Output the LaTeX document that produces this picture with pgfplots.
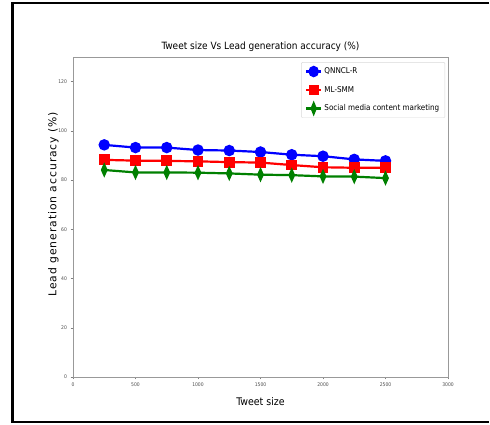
\documentclass[border=0pt]{standalone}
\usepackage{pgfplots}
\pgfplotsset{compat=1.18}
\usepackage{fontspec}
\setmainfont{DejaVu Sans Condensed}
\newfontfamily\wide[LetterSpace=8.5]{DejaVu Sans}
\definecolor{mblue}{RGB}{0,0,255}
\definecolor{mred}{RGB}{255,0,0}
\definecolor{mgreen}{RGB}{0,128,0}
\begin{document}
\begin{tikzpicture}[x=1pt,y=1pt]
\useasboundingbox (0,0) rectangle (490,425);
\draw[line width=2.5pt] (489,422) -- (12.5,422) -- (12.5,3) -- (489,3);
\begin{axis}[
  at={(73pt,48pt)}, anchor=south west,
  scale only axis, width=375pt, height=320pt,
  xmin=0, xmax=3000, ymin=0, ymax=130,
  xtick={0,500,...,3000}, ytick={0,20,...,120},
  tick label style={font=\fontsize{5}{6}\selectfont, text=black!70},
  /pgf/number format/assume math mode=true,
  /pgf/number format/1000 sep={},
  tick align=outside, tick pos=left,
  major tick length=2.5pt,
  every tick/.style={gray, line width=0.5pt},
  axis line style={gray!80, line width=0.6pt},
  title={Tweet size Vs Lead generation accuracy (\%)},
  title style={font=\fontsize{10}{12}\selectfont, yshift=-4pt},
  xlabel={Tweet size},
  xlabel style={font=\fontsize{10.5}{12}\selectfont, yshift=-4pt},
  ylabel={\wide Lead generation accuracy (\%)},
  ylabel style={font=\fontsize{10.8}{12}\selectfont, at={(ticklabel cs:0.54)}, yshift=-7pt},
  legend style={at={(rel axis cs:0.992,0.984)}, anchor=north east,
    font=\fontsize{8}{9}\selectfont, draw=black!15, rounded corners=1pt,
    row sep=7pt, inner sep=3.5pt},
  legend cell align=left,
  legend image post style={xscale=0.9},
]
\addplot[mblue, line width=2.2pt, mark=*, mark size=4.6pt] coordinates {
(250,94.3) (500,93.2) (750,93.2) (1000,92.2) (1250,92.0) (1500,91.4) (1750,90.3) (2000,89.7) (2250,88.4) (2500,87.8)};
\addlegendentry{QNNCL-R}
\addplot[mred, line width=2.2pt, mark=square*, mark size=4.3pt] coordinates {
(250,88.2) (500,87.9) (750,87.8) (1000,87.6) (1250,87.3) (1500,87.1) (1750,86.1) (2000,85.2) (2250,85.0) (2500,85.0)};
\addlegendentry{ML-SMM}
\addplot[mgreen, line width=2.2pt, mark=diamond*, mark size=5pt, mark options={xscale=0.6}] coordinates {
(250,84.1) (500,83.1) (750,83.1) (1000,83.0) (1250,82.7) (1500,82.2) (1750,82.0) (2000,81.5) (2250,81.4) (2500,80.8)};
\addlegendentry{Social media content marketing}
\end{axis}
\end{tikzpicture}
\end{document}
